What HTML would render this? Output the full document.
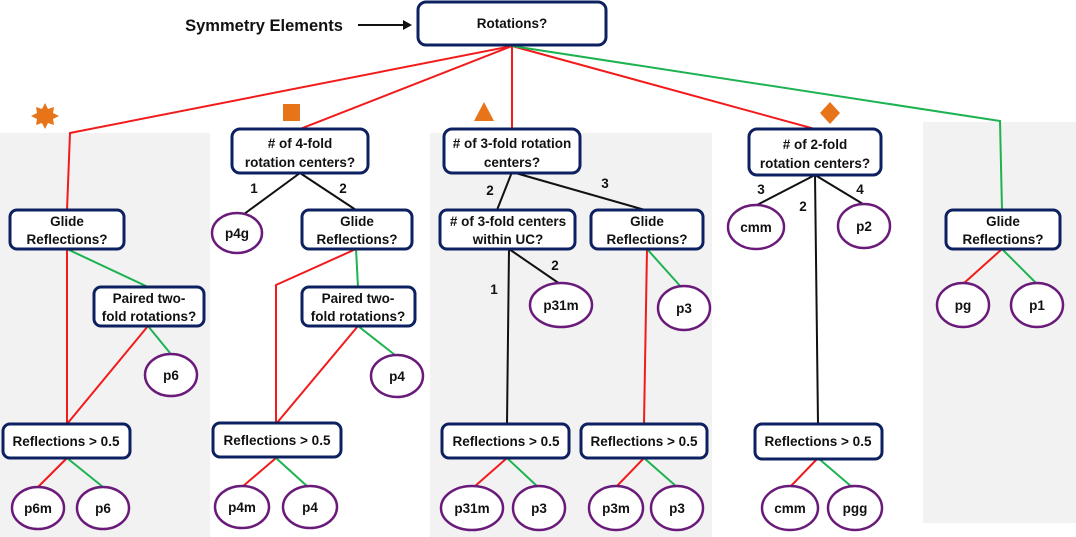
<!DOCTYPE html>
<html><head><meta charset="utf-8"><style>
html,body{margin:0;padding:0;background:#fff;}
svg{display:block;font-family:"Liberation Sans",Arial,sans-serif;font-weight:bold;}
.b{fill:#fff;stroke:#0d2060;stroke-width:3;}
.e{fill:#fff;stroke:#6a1b7a;stroke-width:2.5;}
.t{font-size:13.5px;fill:#111;text-anchor:middle;}
.r{stroke:#f21b1b;stroke-width:2;fill:none;}
.g{stroke:#1db351;stroke-width:2;fill:none;}
.k{stroke:#111;stroke-width:2;fill:none;}
</style></head><body>
<svg width="1076" height="537" viewBox="0 0 1076 537">
<rect x="0" y="133" width="210" height="404" fill="#f2f2f2"/>
<rect x="430" y="133" width="282" height="404" fill="#f2f2f2"/>
<rect x="923" y="122" width="153" height="401" fill="#f2f2f2"/>

<!-- top -->
<text x="264" y="31" font-size="16.5" text-anchor="middle" fill="#111">Symmetry Elements</text>
<line x1="358" y1="25" x2="405" y2="25" stroke="#111" stroke-width="2"/>
<polygon points="412,25 403,20 403,30" fill="#111"/>

<!-- connectors -->
<polyline class="r" points="512,46 70,133 67,210"/>
<polyline class="r" points="512,46 300,129"/>
<polyline class="r" points="512,46 512,129"/>
<polyline class="r" points="512,46 815,129"/>
<polyline class="g" points="512,46 1000,121 1002,210"/>

<rect class="b" x="418" y="2" width="188" height="43" rx="8"/>
<text class="t" x="512" y="28">Rotations?</text>

<!-- icons -->
<polygon fill="#e8741a" points="45,103 48,109 54,107 53,113 59,116 53,119 54,125 48,123 45,129 42,123 36,125 37,119 31,116 37,113 36,107 42,109"/>
<rect x="283" y="104" width="17" height="17" fill="#e8741a"/>
<polygon points="484,102 494,121 474,121" fill="#e8741a"/>
<polygon points="830,102 840,113 830,124 820,113" fill="#e8741a"/>

<!-- panel 1 -->
<line class="r" x1="67" y1="249" x2="67" y2="424"/>
<line class="g" x1="67" y1="249" x2="148" y2="287"/>
<line class="r" x1="148" y1="326" x2="67" y2="424"/>
<line class="g" x1="148" y1="326" x2="170" y2="353"/>
<line class="r" x1="67" y1="458" x2="38" y2="487"/>
<line class="g" x1="67" y1="458" x2="103" y2="487"/>
<rect class="b" x="10" y="210" width="114" height="39" rx="7"/>
<text class="t" x="67" y="226">Glide</text><text class="t" x="67" y="244">Reflections?</text>
<rect class="b" x="94" y="287" width="110" height="39" rx="7"/>
<text class="t" x="149" y="303">Paired two-</text><text class="t" x="149" y="321">fold rotations?</text>
<ellipse class="e" cx="171" cy="375" rx="26" ry="21"/><text class="t" x="171" y="380">p6</text>
<rect class="b" x="3" y="424" width="127" height="34" rx="7"/>
<text class="t" x="66" y="446">Reflections &gt; 0.5</text>
<ellipse class="e" cx="38" cy="508" rx="26" ry="21"/><text class="t" x="38" y="513">p6m</text>
<ellipse class="e" cx="103" cy="508" rx="26" ry="21"/><text class="t" x="103" y="513">p6</text>

<!-- panel 2 -->
<line class="k" x1="300" y1="173" x2="240" y2="217"/>
<line class="k" x1="300" y1="173" x2="356" y2="210"/>
<text class="t" x="254" y="193">1</text><text class="t" x="343" y="193">2</text>
<polyline class="r" points="356,249 276,285 276,424"/>
<line class="g" x1="356" y1="249" x2="358" y2="287"/>
<line class="r" x1="358" y1="326" x2="276" y2="424"/>
<line class="g" x1="358" y1="326" x2="395" y2="355"/>
<line class="r" x1="276" y1="458" x2="242" y2="487"/>
<line class="g" x1="276" y1="458" x2="308" y2="487"/>
<rect class="b" x="232" y="129" width="136" height="44" rx="8"/>
<text class="t" x="300" y="148">#  of 4-fold</text><text class="t" x="300" y="167">rotation centers?</text>
<ellipse class="e" cx="237" cy="233" rx="25" ry="20"/><text class="t" x="237" y="238">p4g</text>
<rect class="b" x="302" y="210" width="110" height="39" rx="7"/>
<text class="t" x="357" y="226">Glide</text><text class="t" x="357" y="244">Reflections?</text>
<rect class="b" x="302" y="287" width="113" height="39" rx="7"/>
<text class="t" x="358" y="303">Paired two-</text><text class="t" x="358" y="321">fold rotations?</text>
<ellipse class="e" cx="397" cy="376" rx="26" ry="21"/><text class="t" x="397" y="381">p4</text>
<rect class="b" x="213" y="423" width="128" height="34" rx="7"/>
<text class="t" x="277" y="445">Reflections &gt; 0.5</text>
<ellipse class="e" cx="242" cy="507" rx="27" ry="21"/><text class="t" x="242" y="512">p4m</text>
<ellipse class="e" cx="310" cy="507" rx="27" ry="21"/><text class="t" x="310" y="512">p4</text>

<!-- panel 3 -->
<line class="k" x1="512" y1="172" x2="497" y2="210"/>
<line class="k" x1="512" y1="172" x2="645" y2="210"/>
<text class="t" x="490" y="195">2</text><text class="t" x="605" y="188">3</text>
<line class="k" x1="509" y1="249" x2="507" y2="424"/>
<line class="k" x1="509" y1="249" x2="560" y2="284"/>
<text class="t" x="494" y="294">1</text><text class="t" x="555" y="270">2</text>
<line class="r" x1="647" y1="249" x2="644" y2="424"/>
<line class="g" x1="647" y1="249" x2="682" y2="288"/>
<line class="r" x1="507" y1="458" x2="474" y2="487"/>
<line class="g" x1="507" y1="458" x2="538" y2="487"/>
<line class="r" x1="644" y1="458" x2="616" y2="487"/>
<line class="g" x1="644" y1="458" x2="677" y2="487"/>
<rect class="b" x="444" y="129" width="136" height="44" rx="8"/>
<text class="t" x="512" y="148"># of 3-fold rotation</text><text class="t" x="512" y="167">centers?</text>
<rect class="b" x="440" y="210" width="135" height="39" rx="7"/>
<text class="t" x="508" y="226"># of 3-fold centers</text><text class="t" x="508" y="244">within UC?</text>
<rect class="b" x="591" y="210" width="112" height="39" rx="7"/>
<text class="t" x="647" y="226">Glide</text><text class="t" x="647" y="244">Reflections?</text>
<ellipse class="e" cx="561" cy="305" rx="31" ry="22"/><text class="t" x="561" y="310">p31m</text>
<ellipse class="e" cx="684" cy="308" rx="26" ry="22"/><text class="t" x="684" y="313">p3</text>
<rect class="b" x="442" y="424" width="127" height="34" rx="7"/>
<text class="t" x="506" y="446">Reflections &gt; 0.5</text>
<rect class="b" x="581" y="424" width="126" height="34" rx="7"/>
<text class="t" x="644" y="446">Reflections &gt; 0.5</text>
<ellipse class="e" cx="472" cy="508" rx="31" ry="22"/><text class="t" x="472" y="513">p31m</text>
<ellipse class="e" cx="539" cy="508" rx="26" ry="22"/><text class="t" x="539" y="513">p3</text>
<ellipse class="e" cx="616" cy="508" rx="27" ry="22"/><text class="t" x="616" y="513">p3m</text>
<ellipse class="e" cx="677" cy="508" rx="26" ry="22"/><text class="t" x="677" y="513">p3</text>

<!-- panel 4 -->
<line class="k" x1="815" y1="175" x2="757" y2="205"/>
<line class="k" x1="815" y1="175" x2="863" y2="204"/>
<line class="k" x1="815" y1="175" x2="818" y2="424"/>
<text class="t" x="761" y="194">3</text><text class="t" x="860" y="194">4</text><text class="t" x="803" y="211">2</text>
<line class="r" x1="818" y1="458" x2="790" y2="487"/>
<line class="g" x1="818" y1="458" x2="852" y2="487"/>
<rect class="b" x="749" y="129" width="132" height="46" rx="8"/>
<text class="t" x="815" y="149"># of 2-fold</text><text class="t" x="815" y="168">rotation centers?</text>
<ellipse class="e" cx="756" cy="227" rx="28" ry="22"/><text class="t" x="756" y="232">cmm</text>
<ellipse class="e" cx="864" cy="226" rx="26" ry="22"/><text class="t" x="864" y="231">p2</text>
<rect class="b" x="755" y="424" width="127" height="35" rx="7"/>
<text class="t" x="818" y="446">Reflections &gt; 0.5</text>
<ellipse class="e" cx="790" cy="508" rx="28" ry="22"/><text class="t" x="790" y="513">cmm</text>
<ellipse class="e" cx="855" cy="508" rx="27" ry="22"/><text class="t" x="855" y="513">pgg</text>

<!-- panel 5 -->
<line class="r" x1="1002" y1="249" x2="963" y2="284"/>
<line class="g" x1="1002" y1="249" x2="1037" y2="284"/>
<rect class="b" x="946" y="210" width="114" height="39" rx="7"/>
<text class="t" x="1003" y="226">Glide</text><text class="t" x="1003" y="244">Reflections?</text>
<ellipse class="e" cx="963" cy="305" rx="26" ry="22"/><text class="t" x="963" y="310">pg</text>
<ellipse class="e" cx="1037" cy="305" rx="26" ry="22"/><text class="t" x="1037" y="310">p1</text>
</svg>
</body></html>
